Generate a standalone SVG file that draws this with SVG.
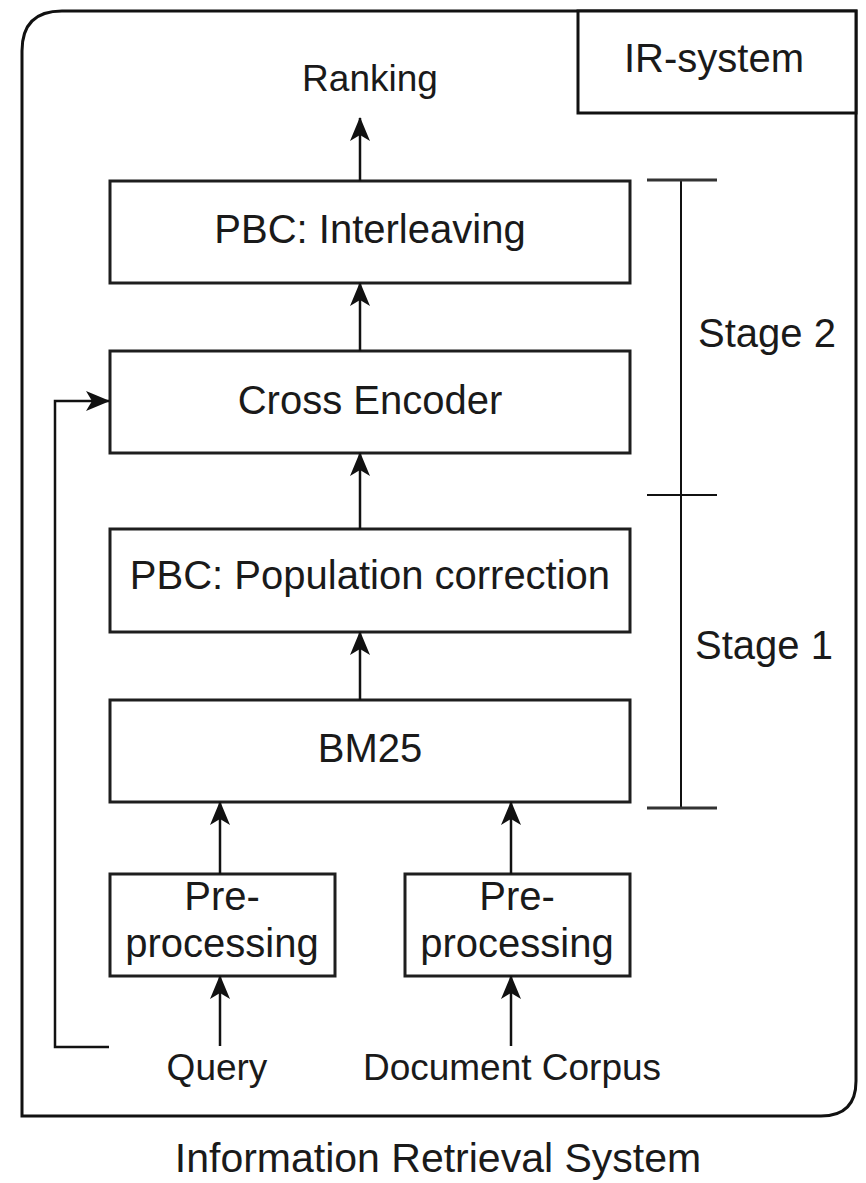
<svg xmlns="http://www.w3.org/2000/svg" width="866" height="1183" viewBox="0 0 866 1183">
<defs>
<marker id="arr" viewBox="0 0 24 20" refX="23" refY="10" markerWidth="24" markerHeight="20" markerUnits="userSpaceOnUse" orient="auto">
<path d="M0,0 L24,10 L0,20 L6,10 Z" fill="#111"/>
</marker>
<style>
.box{fill:#fff;stroke:#1e1e1e;stroke-width:3}
.t{font-family:"Liberation Sans",Arial,Helvetica,sans-serif;fill:#1a1a1a;text-anchor:middle}
.bt{font-size:40px}
.lt{font-size:37px}
.c{fill:none;stroke:#111;stroke-width:2.5}
.ca{fill:none;stroke:#111;stroke-width:2.5;marker-end:url(#arr)}
</style>
</defs>
<rect width="866" height="1183" fill="#fff"/>
<g id="frame">
<path d="M22,1116 L22,51 Q22,11 62,11 L856,11 L856,1081 Q856,1116 821,1116 Z" fill="none" stroke="#111" stroke-width="3"/>
</g>
<g id="ir-system">
<rect x="578" y="11" width="278" height="102" fill="#fff" stroke="#111" stroke-width="3"/>
<text class="t bt" x="714" y="72">IR-system</text>
</g>
<g id="ranking"><text class="t lt" x="370" y="91">Ranking</text></g>
<g id="interleaving">
<rect class="box" x="110" y="181" width="520" height="102"/>
<text class="t bt" x="370" y="243">PBC: Interleaving</text>
</g>
<g id="cross-encoder">
<rect class="box" x="110" y="351" width="520" height="102"/>
<text class="t bt" x="370" y="414">Cross Encoder</text>
</g>
<g id="population-correction">
<rect class="box" x="110" y="529" width="520" height="103"/>
<text class="t bt" x="370" y="589">PBC: Population correction</text>
</g>
<g id="bm25">
<rect class="box" x="110" y="700" width="520" height="102"/>
<text class="t bt" x="370" y="762">BM25</text>
</g>
<g id="preprocessing-query">
<rect class="box" x="110" y="874" width="225" height="102"/>
<text class="t bt" x="222" y="910">Pre-</text>
<text class="t bt" x="222" y="957">processing</text>
</g>
<g id="preprocessing-corpus">
<rect class="box" x="405" y="874" width="225" height="102"/>
<text class="t bt" x="517" y="910">Pre-</text>
<text class="t bt" x="517" y="957">processing</text>
</g>
<g id="query"><text class="t lt" x="217" y="1080">Query</text></g>
<g id="corpus"><text class="t lt" x="512" y="1080">Document Corpus</text></g>
<g id="stages">
<line x1="681" y1="180" x2="681" y2="808" stroke="#111" stroke-width="2"/>
<line x1="647" y1="180" x2="717" y2="180" stroke="#333" stroke-width="3"/>
<line x1="647" y1="495" x2="717" y2="495" stroke="#111" stroke-width="2"/>
<line x1="647" y1="808" x2="717" y2="808" stroke="#333" stroke-width="3"/>
<text class="t bt" x="767" y="347">Stage 2</text>
<text class="t bt" x="764" y="659">Stage 1</text>
</g>
<g id="title"><text class="t" style="font-size:41px" x="438" y="1172">Information Retrieval System</text></g>
<g id="connectors">
<path class="ca" d="M360,181 L360,118"/>
<path class="ca" d="M360,351 L360,283"/>
<path class="ca" d="M360,529 L360,453"/>
<path class="ca" d="M360,700 L360,632"/>
<path class="ca" d="M220,874 L220,802"/>
<path class="ca" d="M511,874 L511,802"/>
<path class="ca" d="M220,1046 L220,976"/>
<path class="ca" d="M511,1046 L511,976"/>
<path class="ca" d="M109,1047 L55,1047 L55,401 L109,401"/>
</g>
</svg>
